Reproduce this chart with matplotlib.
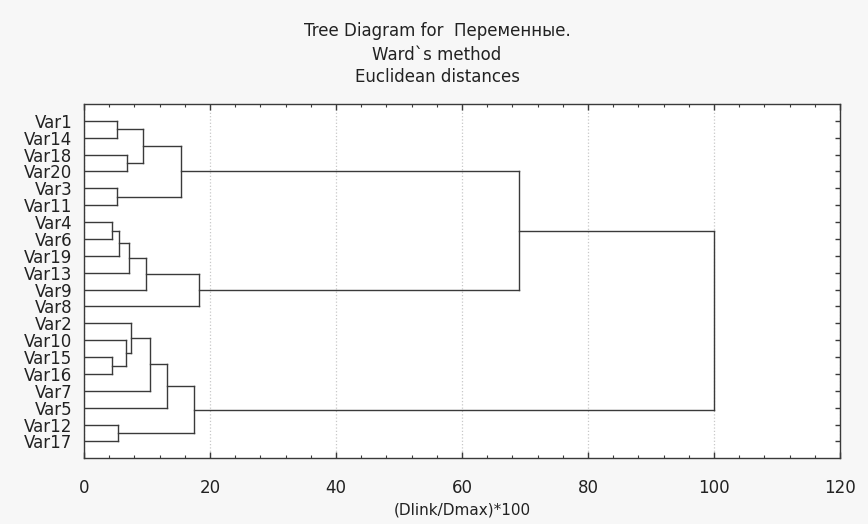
import numpy as np
from matplotlib import pyplot as plt
from matplotlib.ticker import MultipleLocator

plt.rcParams["font.family"] = ["DejaVu Sans"]

# leaf labels, top to bottom
labels = ["Var1", "Var14", "Var18", "Var20", "Var3", "Var11", "Var4", "Var6",
          "Var19", "Var13", "Var9", "Var8", "Var2", "Var10", "Var15", "Var16",
          "Var7", "Var5", "Var12", "Var17"]

# linkage steps: leaves are 0..19, step k creates cluster 20+k
merge_left = [6, 14, 0, 4, 18, 20, 13, 2, 25, 12, 22, 28, 29, 32, 30, 33, 31, 34, 37]
merge_right = [7, 15, 1, 5, 19, 8, 21, 3, 9, 26, 27, 10, 16, 17, 23, 24, 11, 36, 35]
merge_height = [4.4, 4.4, 5.3, 5.3, 5.4, 5.6, 6.7, 6.9, 7.2, 7.5, 9.4, 9.9,
                10.4, 13.1, 15.4, 17.5, 18.3, 69.0, 100.0]

line_color = "#3a3a3a"
text_color = "#222222"
bg = "#f7f7f7"


def plot_tree(ax) -> None:
    """
    Draw the dendrogram links from the merge arrays
    """
    n = len(labels)
    xs = {i: 0.0 for i in range(n)}
    ys = {i: float(i + 1) for i in range(n)}
    for k, (a, b, h) in enumerate(zip(merge_left, merge_right, merge_height)):
        ax.plot([xs[a], h], [ys[a], ys[a]], color=line_color, lw=1)
        ax.plot([xs[b], h], [ys[b], ys[b]], color=line_color, lw=1)
        ax.plot([h, h], [ys[a], ys[b]], color=line_color, lw=1)
        xs[n + k] = h
        ys[n + k] = (ys[a] + ys[b]) / 2


fig = plt.figure(figsize=(8.68, 5.24), dpi=100, facecolor=bg)
ax = fig.add_axes([0.0968, 0.1254, 0.8710, 0.6761])
ax.set_facecolor("white")

plot_tree(ax)

ax.set_xlim(0, 120)
ax.set_ylim(len(labels) + 1, 0)
ax.set_xticks(np.arange(0, 121, 20))
ax.xaxis.set_minor_locator(MultipleLocator(4))
ax.set_yticks(np.arange(1, len(labels) + 1))
ax.set_yticklabels(labels)

ax.tick_params(axis="x", which="major", direction="in", top=True, bottom=True,
               length=4, width=1, color=line_color, labelsize=12, pad=15, labelcolor=text_color)
ax.tick_params(axis="x", which="minor", direction="in", top=True, bottom=True,
               length=2.5, width=0.8, color=line_color)
ax.tick_params(axis="y", direction="in", left=False, right=True, length=3.5,
               width=1, color=line_color, labelsize=12, pad=8.5, labelcolor=text_color)

ax.grid(axis="x", which="major", linestyle=":", color="#c8c8c8", lw=0.9)
ax.set_axisbelow(True)
for s in ax.spines.values():
    s.set_color(line_color)
    s.set_linewidth(1)

ax.set_xlabel("(Dlink/Dmax)*100", fontsize=11, color=text_color, labelpad=4)

fig.text(0.5035, 0.941, "Tree Diagram for  Переменные.", ha="center", va="center",
         fontsize=12, color=text_color)
fig.text(0.5035, 0.895, "Ward`s method", ha="center", va="center", fontsize=12, color=text_color)
fig.text(0.5035, 0.853, "Euclidean distances", ha="center", va="center", fontsize=12, color=text_color)

plt.savefig("out.png", dpi=100, facecolor=bg)
